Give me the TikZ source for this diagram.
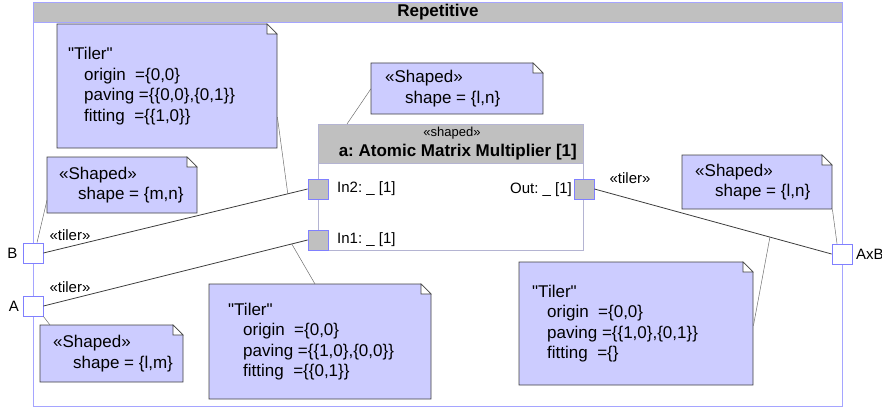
\documentclass[tikz,border=0pt]{standalone}
\usepackage{fontspec}
\setmainfont{Liberation Sans}[Ligatures=TeXOff]
\usetikzlibrary{calc}
\definecolor{notefill}{RGB}{204,204,255}
\definecolor{noteline}{RGB}{64,64,64}
\definecolor{framecol}{RGB}{165,165,255}
\definecolor{portline}{RGB}{128,128,255}
\definecolor{hdr}{RGB}{192,192,192}
\definecolor{blockline}{RGB}{180,180,210}
\definecolor{conncol}{RGB}{60,60,60}
\definecolor{anchcol}{RGB}{110,110,110}
\newcommand{\notefs}{\fontsize{17}{20.5}\selectfont}
\newcommand{\lblfs}{\fontsize{15}{18}\selectfont}
\newcommand{\umlnote}[7]{%
  \filldraw[notebg] (#2,#3) -- ({#4-10},#3) -- (#4,{#3+10}) -- (#4,#5) -- (#2,#5) -- cycle;
  \filldraw[notefold] ({#4-10},#3) -- ({#4-10},{#3+10}) -- (#4,{#3+10}) -- cycle;
  \pgfmathsetmacro{\notew}{#4-#2}%
  \pgfmathsetmacro{\noteh}{#5-#3}%
  \node[noteregion, minimum width=\notew pt, minimum height=\noteh pt] (#1) at (#2,#3) {};
  \node[notetext] (#1-txt) at ([xshift=#6pt]#1.west) {#7};
}
\begin{document}
\frenchspacing
\begin{tikzpicture}[x=1pt,y=-1pt,
  notebg/.style={fill=notefill, draw=noteline, line width=0.8pt},
  notefold/.style={fill=white, draw=noteline, line width=0.6pt},
  noteregion/.style={anchor=north west, inner sep=0pt},
  notetext/.style={anchor=west, inner sep=0pt, align=left, font=\notefs},
  frm/.style={draw=framecol, line width=0.8pt, inner sep=0pt},
  titlebar/.style={fill=hdr, draw=framecol, line width=0.8pt, inner sep=0pt, font=\notefs\bfseries},
  blockbox/.style={draw=blockline, fill=white, line width=0.8pt, inner sep=0pt},
  blockhdr/.style={fill=hdr, draw=blockline, line width=0.8pt, inner sep=0pt},
  bport/.style={draw=portline, fill=white, minimum size=20pt, inner sep=0pt, line width=0.8pt},
  iport/.style={draw=portline, fill=hdr, minimum size=20pt, inner sep=0pt, line width=0.8pt},
  lbl/.style={font=\lblfs, inner sep=0pt},
  conn/.style={draw=conncol, line width=0.8pt},
  anch/.style={draw=anchcol, line width=0.5pt}]
\useasboundingbox (0,0) rectangle (882,409);

% frame
\node[frm, minimum width=809pt, minimum height=404pt, anchor=north west] (frame) at (33,2) {};
\node[titlebar, minimum width=809pt, minimum height=20pt, anchor=north west] (title) at (33,2) {Repetitive};

% notes
\umlnote{t1}{57}{24}{277}{148}{11}{"Tiler"\\\hspace*{16pt}origin\ \ =\{0,0\}\\\hspace*{16pt}paving =\{\{0,0\},\{0,1\}\}\\\hspace*{16pt}fitting\ \ =\{\{1,0\}\}}
\umlnote{s1}{371}{63}{543}{114}{14}{«Shaped»\\\hspace*{20pt}shape = \{l,n\}}
\umlnote{s2}{47}{157}{197}{213}{12}{«Shaped»\\\hspace*{19pt}shape = \{m,n\}}
\umlnote{s3}{40}{325}{183}{382}{13}{«Shaped»\\\hspace*{20pt}shape = \{l,m\}}
\umlnote{t2}{209}{284}{431}{399}{19}{"Tiler"\\\hspace*{15pt}origin\ \ =\{0,0\}\\\hspace*{15pt}paving =\{\{1,0\},\{0,0\}\}\\\hspace*{15pt}fitting\ \ =\{\{0,1\}\}}
\umlnote{s4}{682}{155}{832}{209}{13}{«Shaped»\\\hspace*{20pt}shape = \{l,n\}}
\umlnote{t3}{519}{262}{753}{385}{13}{"Tiler"\\\hspace*{15pt}origin\ \ =\{0,0\}\\\hspace*{15pt}paving =\{\{1,0\},\{0,1\}\}\\\hspace*{15pt}fitting\ \ =\{\}}

% block
\node[blockbox, minimum width=265pt, minimum height=126pt, anchor=north west] (blk) at (318,124) {};
\node[blockhdr, minimum width=265pt, minimum height=39pt, anchor=north west] (blkhdr) at (318,124) {};
\node[inner sep=0pt, font=\fontsize{13}{15}\selectfont] (ster) at (452,133) {«shaped»};
\node[inner sep=0pt, font=\notefs\bfseries, anchor=east] (bname) at (577,152) {a: Atomic Matrix Multiplier [1]};

% block ports
\node[iport] (In2) at (318,189) {};
\node[iport] (In1) at (318,240) {};
\node[iport] (Out) at (584,189) {};
\node[lbl, anchor=west] (In2l) at (337,189) {In2: \_ [1]};
\node[lbl, anchor=west] (In1l) at (337,240) {In1: \_ [1]};
\node[lbl, anchor=east] (Outl) at (572,190) {Out: \_ [1]};

% boundary ports
\node[bport] (B) at (33,253) {};
\node[bport] (A) at (33,306) {};
\node[bport] (AxB) at (842,254) {};
\node[lbl] (Bl) at (12.5,253) {B};
\node[lbl] (Al) at (14,306) {A};
\node[lbl, anchor=west] (AxBl) at (856,254) {AxB};

% connectors
\draw[conn] (B.east) -- coordinate[pos=0.925] (cB) (In2.west);
\draw[conn] (A.east) -- coordinate[pos=0.94] (cA) (In1.west);
\draw[conn] (Out.east) -- coordinate[pos=0.74] (cO) (AxB.west);
\node[lbl] (tB) at (70,235) {«tiler»};
\node[lbl] (tA) at (70,287) {«tiler»};
\node[lbl] (tO) at (630,178) {«tiler»};

% note anchors
\draw[anch] ([yshift=-31pt]t1.east) -- (cB);
\draw[anch] (s1.west) -- ([xshift=29pt]blk.north west);
\draw[anch] ([yshift=-15pt]s2.west) -- ([xshift=4pt]B.north);
\draw[anch] (A.south east) -- ([xshift=10pt]s3.north west);
\draw[anch] ([xshift=106pt]t2.north west) -- (cA);
\draw[anch] (s4.south east) -- ([xshift=-5pt]AxB.north);
\draw[anch] ([yshift=-2pt]t3.east) -- (cO);
\end{tikzpicture}
\end{document}
